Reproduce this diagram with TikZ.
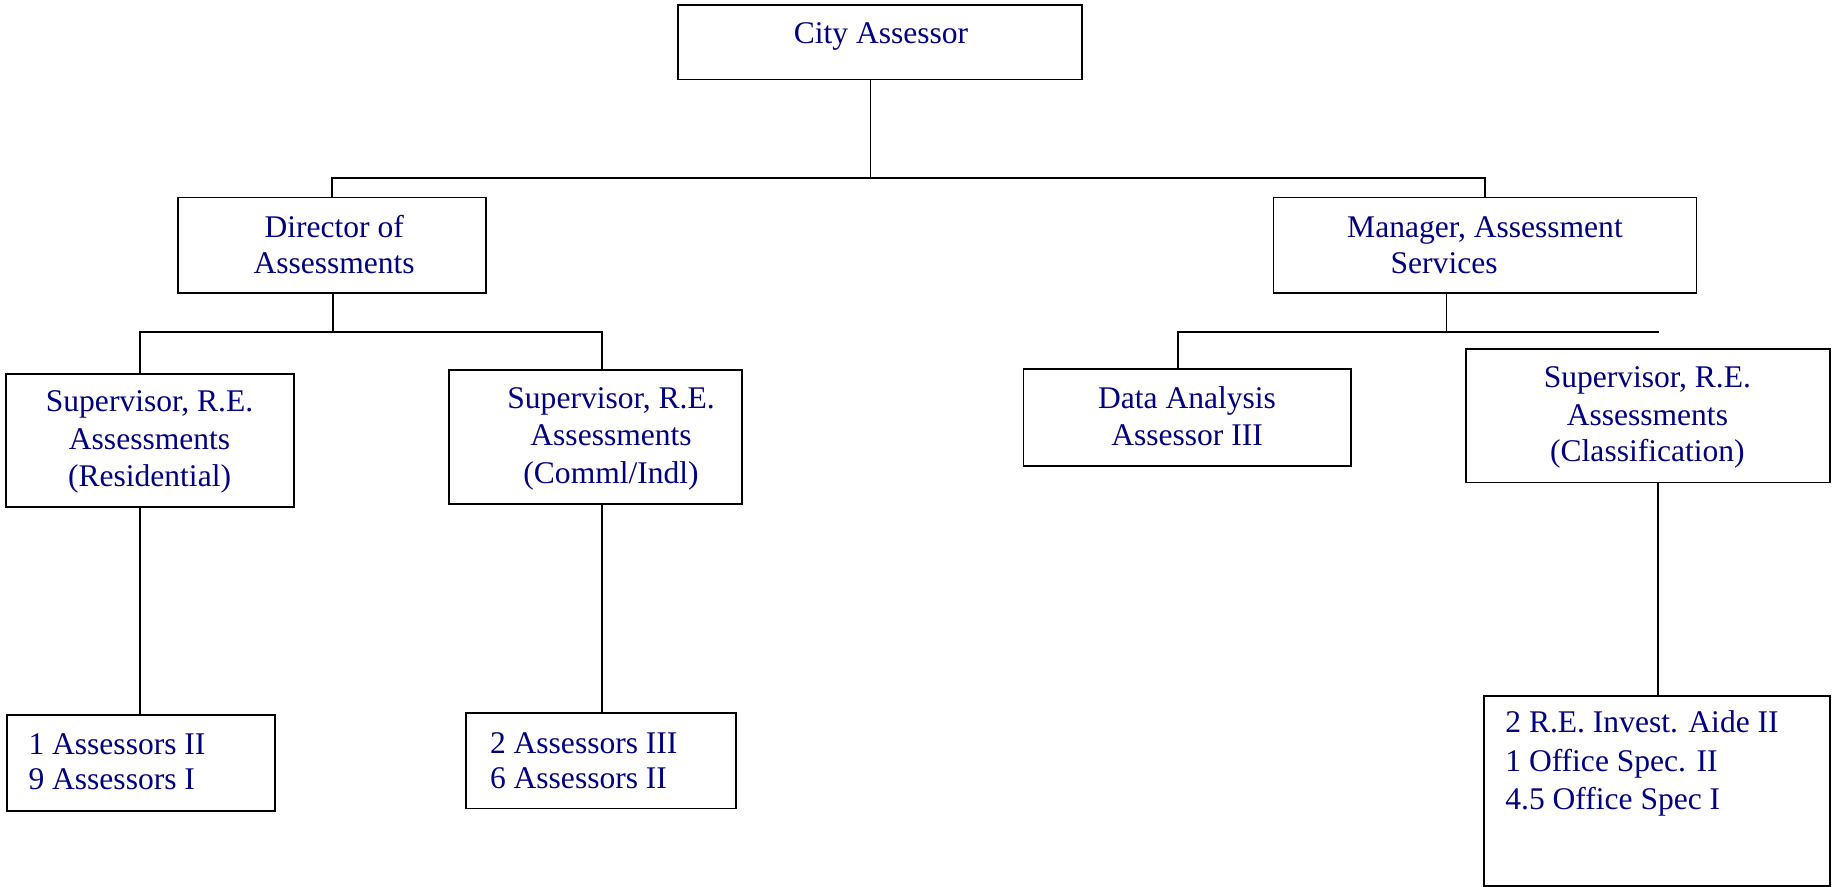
\documentclass[tikz,border=0pt]{standalone}
\usepackage{fontspec}
\setmainfont{Liberation Serif}
\definecolor{orgtext}{RGB}{0,0,128}
\tikzset{
  orgbox/.style={draw=black, line width=0.8pt, rectangle, inner sep=0pt, fill=none},
  orgline/.style={draw=black, line width=0.8pt},
  lbl/.style={text=orgtext, inner sep=0pt, anchor=base, font=\fontsize{13.5}{16}\selectfont},
  lbll/.style={lbl, anchor=base west}
}
\begin{document}
\begin{tikzpicture}[x=0.5pt,y=-0.5pt]
\useasboundingbox (0,0) rectangle (1568,759);
% boxes
\node[orgbox, minimum width=173pt, minimum height=32pt] (ca) at (753,36) {};
\node[orgbox, minimum width=132pt, minimum height=41pt] (dir) at (284,210) {};
\node[orgbox, minimum width=181pt, minimum height=41pt] (mgr) at (1271,210) {};
\node[orgbox, minimum width=123.5pt, minimum height=57pt] (res) at (128.5,377) {};
\node[orgbox, minimum width=125.5pt, minimum height=57pt] (com) at (509.5,374) {};
\node[orgbox, minimum width=140pt, minimum height=41.5pt] (data) at (1016,357.5) {};
\node[orgbox, minimum width=155.5pt, minimum height=57pt] (cls) at (1410.5,356) {};
\node[orgbox, minimum width=114.5pt, minimum height=41pt] (b1) at (120.5,653) {};
\node[orgbox, minimum width=115.5pt, minimum height=41pt] (b2) at (514.5,651) {};
\node[orgbox, minimum width=148pt, minimum height=81pt] (b3) at (1418,677) {};
% texts
\node[lbl] (ca1) at (754,37) {City Assessor};
\node[lbl] (dir1) at (286,203) {Director of};
\node[lbl] (dir2) at (286,234) {Assessments};
\node[lbl] (mgr1) at (1271,203) {Manager, Assessment};
\node[lbl] (mgr2) at (1236,234) {Services};
\node[lbl] (res1) at (128,352.5) {Supervisor, R.E.};
\node[lbl] (res2) at (128,384.5) {Assessments};
\node[lbl] (res3) at (128,416.5) {(Residential)};
\node[lbl] (com1) at (523,349.5) {Supervisor, R.E.};
\node[lbl] (com2) at (523,381.5) {Assessments};
\node[lbl] (com3) at (523,413.5) {(Comml/Indl)};
\node[lbl] (data1) at (1016,350) {Data Analysis};
\node[lbl] (data2) at (1016,381) {Assessor III};
\node[lbl] (cls1) at (1410,332) {Supervisor, R.E.};
\node[lbl] (cls2) at (1410,364) {Assessments};
\node[lbl] (cls3) at (1410,395) {(Classification)};
\node[lbll] (b1a) at (24,646) {1 Assessors II};
\node[lbll] (b1b) at (24,676) {9 Assessors I};
\node[lbll] (b2a) at (419,645) {2 Assessors III};
\node[lbll] (b2b) at (419,675) {6 Assessors II};
\node[lbll] (b3a) at (1288,627) {2 R.E. Invest. Aide II};
\node[lbll] (b3b) at (1288,660) {1 Office Spec. II};
\node[lbll] (b3c) at (1288,693) {4.5 Office Spec I};
% connectors
\coordinate (j0) at (745,152);
\coordinate (j1) at (285,284);
\coordinate (j2) at (1238,284);
\coordinate (open) at (1420,284);
\draw[orgline] (ca.south -| j0) -- (j0) -| (dir.north);
\draw[orgline] (j0) -| (mgr.north);
\draw[orgline] (dir.south -| j1) -- (j1) -| (res.north -| 120,0);
\draw[orgline] (j1) -| (com.north -| 515,0);
\draw[orgline] (res.south -| 120,0) -- (b1.north -| 120,0);
\draw[orgline] (com.south -| 515,0) -- (b2.north -| 515,0);
\draw[orgline] (mgr.south -| j2) -- (j2) -| (data.north -| 1008,0);
\draw[orgline] (j2) -- (open);
\draw[orgline] (cls.south -| 1419,0) -- (b3.north -| 1419,0);
\end{tikzpicture}
\end{document}
